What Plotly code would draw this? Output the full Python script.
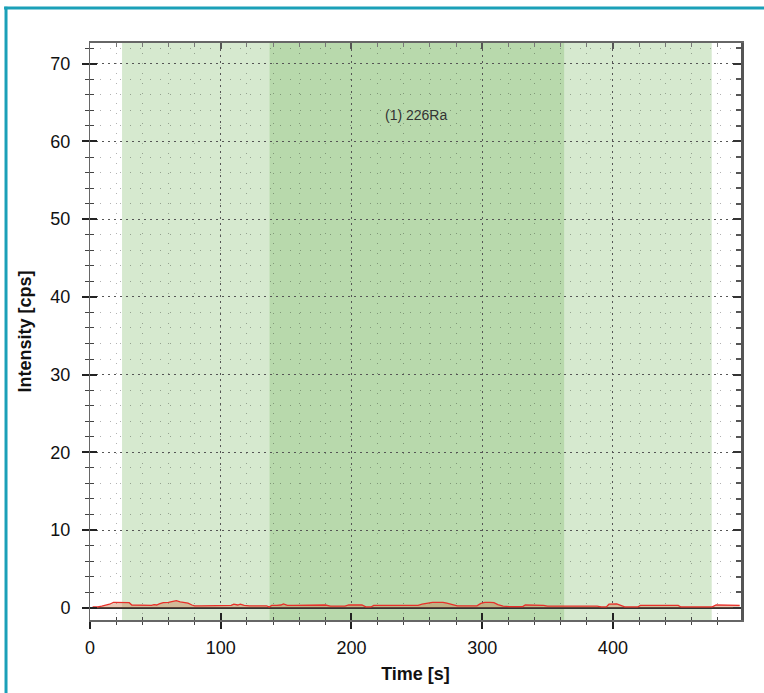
import plotly.graph_objects as go

# ---- data ----
times = [2, 6, 9, 12, 15, 18, 22, 26, 30, 32, 36, 40, 44, 47, 49, 51, 53, 56, 60, 63,
         66, 69, 72, 75, 78, 80, 85, 90, 95, 100, 105, 108, 110, 113, 115, 118, 122, 127,
         132, 135, 137, 139, 143, 146, 148, 151, 156, 161, 166, 170, 175, 180, 184, 190,
         195, 198, 203, 208, 211, 215, 217, 222, 227, 232, 237, 242, 247, 251, 254, 258,
         262, 266, 270, 273, 277, 281, 286, 291, 296, 299, 302, 306, 309, 312, 316, 321,
         326, 331, 333, 338, 343, 347, 350, 355, 360, 365, 370, 375, 380, 385, 388, 391,
         395, 397, 400, 403, 406, 409, 414, 419, 421, 426, 431, 436, 441, 446, 450, 452,
         458, 464, 470, 476, 479, 484, 489, 494, 497]
intensity = [0.1, 0.1, 0.2, 0.3, 0.45, 0.7, 0.7, 0.7, 0.65, 0.35, 0.35, 0.35, 0.35, 0.3,
             0.4, 0.35, 0.5, 0.65, 0.7, 0.8, 0.9, 0.75, 0.7, 0.6, 0.35, 0.25, 0.25, 0.25,
             0.25, 0.3, 0.3, 0.3, 0.45, 0.35, 0.45, 0.3, 0.25, 0.25, 0.25, 0.25, 0.1, 0.3,
             0.3, 0.35, 0.5, 0.3, 0.3, 0.3, 0.3, 0.35, 0.35, 0.35, 0.2, 0.2, 0.2, 0.35, 0.35,
             0.35, 0.1, 0.1, 0.3, 0.3, 0.3, 0.3, 0.3, 0.3, 0.3, 0.3, 0.45, 0.55, 0.7, 0.7,
             0.7, 0.6, 0.4, 0.25, 0.25, 0.25, 0.25, 0.55, 0.7, 0.7, 0.65, 0.4, 0.2, 0.15,
             0.15, 0.15, 0.35, 0.35, 0.35, 0.3, 0.2, 0.2, 0.2, 0.2, 0.2, 0.2, 0.2, 0.2, 0.2,
             0.1, 0.1, 0.45, 0.5, 0.5, 0.3, 0.1, 0.1, 0.1, 0.3, 0.3, 0.3, 0.35, 0.3, 0.3,
             0.3, 0.1, 0.1, 0.1, 0.1, 0.1, 0.35, 0.35, 0.35, 0.35, 0.3]

# integration windows (s)
window_outer = [24.5, 475.6]
window_inner = [137.4, 362.7]
label_text = "(1) 226Ra"
label_pos = [249.4, 63.4]

x_range = [0, 498]
y_range = [-1.58, 72.67]

FONT = "Liberation Sans, Arial, sans-serif"

fig = go.Figure()

fig.add_trace(go.Scatter(
    x=times, y=intensity, mode="lines",
    line=dict(color="#e8302a", width=1.3),
    fill="tozeroy", fillcolor="rgba(205,115,70,0.4)",
    hoverinfo="skip", showlegend=False,
))
# dummy traces so overlay axes are drawn
fig.add_trace(go.Scatter(x=[None], y=[None], xaxis="x2", yaxis="y2", showlegend=False))
fig.add_trace(go.Scatter(x=[None], y=[None], xaxis="x3", yaxis="y3", showlegend=False))

# shaded windows
fig.add_shape(type="rect", xref="x", yref="paper", x0=window_outer[0], x1=window_outer[1],
              y0=0, y1=1, fillcolor="rgba(164,206,148,0.45)", line_width=0, layer="between")
fig.add_shape(type="rect", xref="x", yref="paper", x0=window_inner[0], x1=window_inner[1],
              y0=0, y1=1, fillcolor="rgba(130,190,105,0.35)", line_width=0, layer="between")

fig.add_annotation(x=label_pos[0], y=label_pos[1], xref="x", yref="y", text=label_text,
                   showarrow=False, font=dict(family=FONT, size=14, color="#333333"))

# teal frame
teal = "#1ba0b8"
fig.add_shape(type="line", xref="paper", yref="paper", x0=-0.132, x1=1.04, y0=1.0607, y1=1.0607,
              line=dict(color=teal, width=3))
fig.add_shape(type="line", xref="paper", yref="paper", x0=-0.129, x1=-0.129, y0=1.063, y1=-0.14,
              line=dict(color=teal, width=3))

major_grid = dict(showgrid=True, gridcolor="#555555", griddash="2px,4px", gridwidth=1)

fig.update_layout(
    width=764, height=693,
    margin=dict(l=90, r=23, t=43, b=73),
    paper_bgcolor="white", plot_bgcolor="white",
    font=dict(family=FONT, color="#111111"),
    xaxis=dict(
        range=x_range, dtick=100, tick0=0, ticks="outside", ticklen=7, tickwidth=1.5,
        tickcolor="#222222", showline=True, linecolor="#666666", linewidth=1.5,
        tickfont=dict(size=18), ticklabelstandoff=4,
        title=dict(text="<b>Time [s]</b>", font=dict(size=18), standoff=10),
        zeroline=False, **major_grid,
        minor=dict(dtick=20, ticks="outside", ticklen=3, tickcolor="#444444", tickwidth=1,
                   showgrid=True, gridcolor="rgba(0,0,0,0.3)", griddash="1px,9px", gridwidth=1),
    ),
    yaxis=dict(
        range=y_range, dtick=10, tick0=0, ticks="outside", ticklen=7, tickwidth=1.5,
        tickcolor="#222222", showline=True, linecolor="#666666", linewidth=1,
        tickfont=dict(size=18), ticklabelstandoff=8,
        title=dict(text="<b>Intensity [cps]</b>", font=dict(size=18), standoff=14),
        zeroline=True, zerolinecolor="#333333", zerolinewidth=2, **major_grid,
        minor=dict(dtick=2, ticks="outside", ticklen=4, tickcolor="#444444", tickwidth=1,
                   showgrid=True, gridcolor="rgba(0,0,0,0.3)", griddash="1px,9px", gridwidth=1),
    ),
    xaxis2=dict(
        range=x_range, overlaying="x", side="bottom", anchor="y2", dtick=100, tick0=0,
        ticks="inside", ticklen=7, tickwidth=1.5, tickcolor="#222222",
        showticklabels=False, showgrid=False, zeroline=False, showline=False,
        minor=dict(dtick=20, ticks="inside", ticklen=3, tickcolor="#444444", tickwidth=1),
    ),
    yaxis2=dict(
        range=y_range, overlaying="y", side="left", anchor="x2", dtick=10, tick0=0,
        ticks="inside", ticklen=7, tickwidth=1.5, tickcolor="#222222",
        showticklabels=False, showgrid=False, zeroline=False, showline=False,
        minor=dict(dtick=2, ticks="inside", ticklen=4, tickcolor="#444444", tickwidth=1),
    ),
    xaxis3=dict(
        range=x_range, overlaying="x", side="top", anchor="y3", dtick=100, tick0=0,
        ticks="inside", ticklen=6, tickwidth=1.5, tickcolor="#555555",
        showticklabels=False, showgrid=False, zeroline=False, showline=True,
        linecolor="#666666", linewidth=1.5,
        minor=dict(dtick=20, ticks="inside", ticklen=4, tickcolor="#777777", tickwidth=1),
    ),
    yaxis3=dict(
        range=y_range, overlaying="y", side="right", anchor="x3", dtick=10, tick0=0,
        ticks="inside", ticklen=8, tickwidth=2, tickcolor="#333333",
        showticklabels=False, showgrid=False, zeroline=False, showline=True,
        linecolor="#555555", linewidth=2.5,
        minor=dict(dtick=2, ticks="inside", ticklen=5, tickcolor="#555555", tickwidth=1.5),
    ),
)

fig.write_html("out.html")
